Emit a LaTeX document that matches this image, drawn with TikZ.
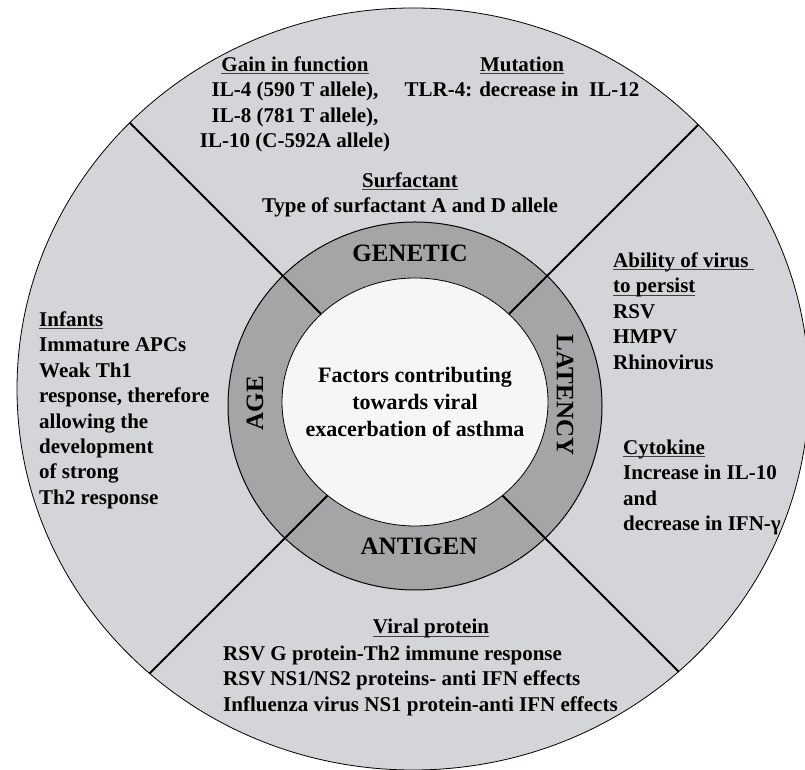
\documentclass[tikz,border=0pt]{standalone}
\usepackage{fontspec}
\setmainfont{Liberation Serif}
\usepackage{tikz}
\definecolor{discgray}{HTML}{D4D5D9}
\definecolor{ringgray}{HTML}{A5A5A8}
\definecolor{hubwhite}{HTML}{F6F6F6}
\newsavebox\ulinebox
\newcommand{\ulabel}[1]{\sbox\ulinebox{#1}\rlap{\color{black!75}\rule[-3pt]{\wd\ulinebox}{1.3pt}}\usebox\ulinebox}

\begin{document}
\begin{tikzpicture}[
    x=1pt, y=1pt,
    every node/.style={inner sep=0pt, font=\fontsize{21}{25.4}\selectfont\bfseries},
    note/.style={align=left, anchor=north west},
    cnote/.style={align=center, anchor=north},
    factor/.style={font=\fontsize{25}{30}\selectfont\bfseries},
    divider/.style={line width=1.8pt}
]
\useasboundingbox (0,0) rectangle (805,770);

% Disc, ring and hub
\draw[fill=discgray, line width=0.8pt] (413,381) ellipse [x radius=396, y radius=381];
\draw[fill=ringgray, line width=1pt] (415,364) ellipse [x radius=187, y radius=184];
\coordinate (cross) at (415,362);
\begin{scope}
\clip (413,381) ellipse [x radius=396, y radius=381];
\foreach \a in {45,135,225,315}
  \draw[divider] (cross) -- ++(\a:600);
\end{scope}
\draw[fill=hubwhite, line width=0.8pt] (415,368) ellipse [x radius=133, y radius=124];

% Factor labels
\node[factor, anchor=base] (genetic) at (410,508) {GENETIC};
\node[factor, anchor=base] (antigen) at (419,215) {ANTIGEN};
\node[factor, rotate=90] (age) at (255,367) {AGE};
\node[factor, rotate=-90] (latency) at (565,375) {LATENCY};

% Core
\node[align=center, font=\fontsize{22}{27}\selectfont\bfseries] (core) at (415,368) {Factors contributing\\towards viral\\exacerbation of asthma};

% Genetic notes
\node[cnote] (gain) at (295,713.5) {\ulabel{Gain in function}\\IL-4 (590 T allele),\\IL-8 (781 T allele),\\IL-10 (C-592A allele)};
\node[cnote] (mutation) at (522,713.5) {\ulabel{Mutation}\\TLR-4: decrease in\ \ IL-12};
\node[cnote] (surf) at (410,597.5) {\ulabel{Surfactant}\\Type of surfactant A and D allele};

% Latency notes
\node[note] (persist) at (613,517.5) {\ulabel{Ability of virus\ }\\\ulabel{to persist}\\RSV\\HMPV\\Rhinovirus};
\node[note] (cytokine) at (623,330.5) {\ulabel{Cytokine}\\Increase in IL-10\\and\\decrease in IFN-γ};

% Age notes
\node[note] (infants) at (39,458.5) {\ulabel{Infants}\\Immature APCs\\Weak Th1\\response, therefore\\allowing the\\development\\of strong\\Th2 response};

% Antigen notes
\node[anchor=base] (viral) at (431,136) {\ulabel{Viral protein}};
\node[note] (effects) at (223,124.5) {RSV G protein-Th2 immune response\\RSV NS1/NS2 proteins- anti IFN effects\\Influenza virus NS1 protein-anti IFN effects};

\end{tikzpicture}
\end{document}
